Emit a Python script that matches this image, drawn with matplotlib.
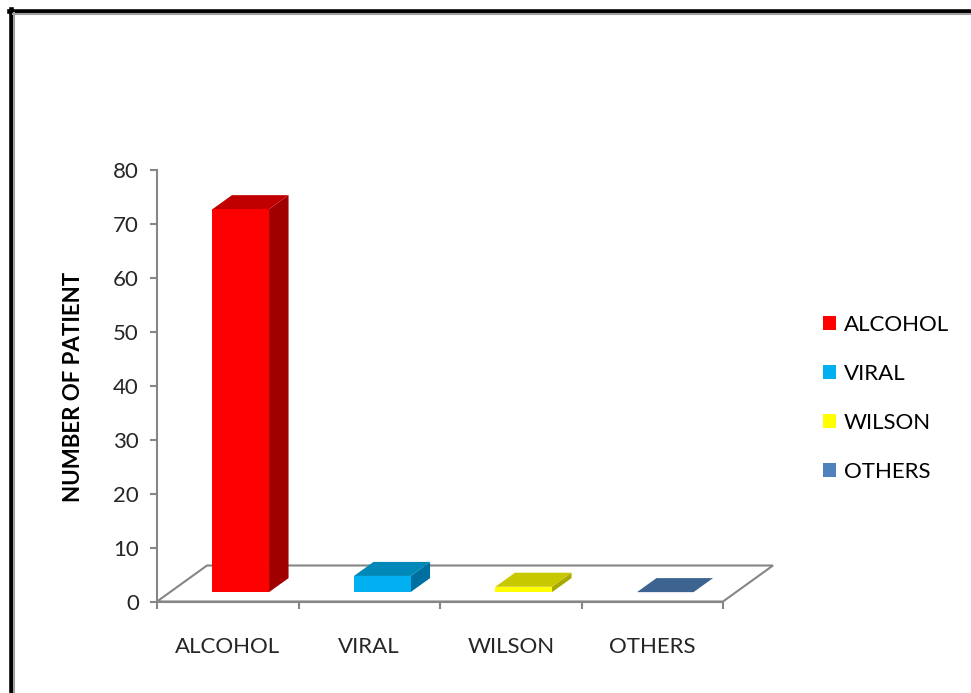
import matplotlib.pyplot as plt
from matplotlib.patches import Polygon, Patch
from matplotlib.lines import Line2D

categories = ["ALCOHOL", "VIRAL", "WILSON", "OTHERS"]
patients = [71, 3, 1, 0]
front_colors = ["#FF0000", "#00B0F0", "#FFFF00", "#4F81BD"]
top_colors = ["#C00000", "#0088B8", "#C8C800", "#3D6491"]
side_colors = ["#A00000", "#0070A0", "#A8A800", "#335580"]
yticks = [0, 10, 20, 30, 40, 50, 60, 70, 80]

plt.rcParams["font.family"] = ["Lato", "DejaVu Sans"]
GRAY = "#868686"
FS = 16

W, H = 971, 693
fig = plt.figure(figsize=(W / 100, H / 100), dpi=100)
ax = fig.add_axes([157 / W, (H - 601.5) / H, (723 - 157) / W, (601.5 - 170) / H])
ax.set_xlim(0, 4)
ax.set_ylim(0, 80)

# depth offset of the floor, in data units
DX = 50 * 4 / 566
DY = 36 * 80 / 431.5
f0, f1 = 0.26, 0.65
bw = 0.40

floor = Polygon([(0, 0), (4, 0), (4 + DX, DY), (DX, DY)], closed=True,
                facecolor="white", edgecolor=GRAY, lw=1.5, clip_on=False, zorder=1)
ax.add_patch(floor)

for i, v in enumerate(patients):
    c = i + 0.5
    xl0, xr0 = c - bw / 2 + f0 * DX, c + bw / 2 + f0 * DX
    xl1, xr1 = c - bw / 2 + f1 * DX, c + bw / 2 + f1 * DX
    yb0, yb1 = f0 * DY, f1 * DY
    yt0, yt1 = yb0 + v, yb1 + v
    ax.add_patch(Polygon([(xr0, yb0), (xr0, yt0), (xr1, yt1), (xr1, yb1)],
                         facecolor=side_colors[i], edgecolor="none", zorder=3, clip_on=False))
    ax.add_patch(Polygon([(xl0, yt0), (xr0, yt0), (xr1, yt1), (xl1, yt1)],
                         facecolor=top_colors[i], edgecolor="none", zorder=3, clip_on=False))
    if v > 0:
        ax.add_patch(Polygon([(xl0, yb0), (xr0, yb0), (xr0, yt0), (xl0, yt0)],
                             facecolor=front_colors[i], edgecolor="none", zorder=4, clip_on=False))

for s in ["top", "right"]:
    ax.spines[s].set_visible(False)
for s in ["left", "bottom"]:
    ax.spines[s].set_color(GRAY)
    ax.spines[s].set_linewidth(1.5)
    ax.spines[s].set_zorder(5)

ax.set_yticks(yticks)
ax.set_yticklabels([str(t) for t in yticks], fontsize=FS, color="#262626")
ax.tick_params(axis="y", length=5, width=1.5, color=GRAY, pad=8)
ax.set_xticks([0, 1, 2, 3, 4])
ax.set_xticklabels([])
ax.tick_params(axis="x", which="major", length=5, width=1.5, color=GRAY)
ax.set_xticks([0.5, 1.5, 2.5, 3.5], minor=True)
ax.set_xticklabels(categories, minor=True, fontsize=FS, color="#262626")
ax.tick_params(axis="x", which="minor", length=0, pad=25.5)

fig.text(73 / W, 1 - 387 / H, "NUMBER OF PATIENT", rotation=90, ha="center", va="center",
         fontsize=FS, fontweight="bold", color="black")

handles = [Patch(facecolor=c, edgecolor="none") for c in front_colors]
fig.legend(handles, categories, loc="upper left", bbox_to_anchor=(823 / W, 1 - 315 / H),
           frameon=False, fontsize=FS, handlelength=0.6, handleheight=0.6,
           handletextpad=0.35, labelspacing=1.3, borderpad=0, borderaxespad=0)

# picture frame (black outer line with gray inner line)
fig.add_artist(Line2D([10.5 / W, 10.5 / W], [0, 1 - 8.5 / H], color="black", lw=3.3, transform=fig.transFigure))
fig.add_artist(Line2D([8.5 / W, 1], [1 - 10.8 / H, 1 - 10.8 / H], color="black", lw=3.3, transform=fig.transFigure))
fig.add_artist(Line2D([14 / W, 14 / W], [0, 1 - 13 / H], color="#A0A0A0", lw=1.5, transform=fig.transFigure))
fig.add_artist(Line2D([13 / W, 1], [1 - 14 / H, 1 - 14 / H], color="#A0A0A0", lw=1.5, transform=fig.transFigure))

fig.savefig("out.png", dpi=100)
